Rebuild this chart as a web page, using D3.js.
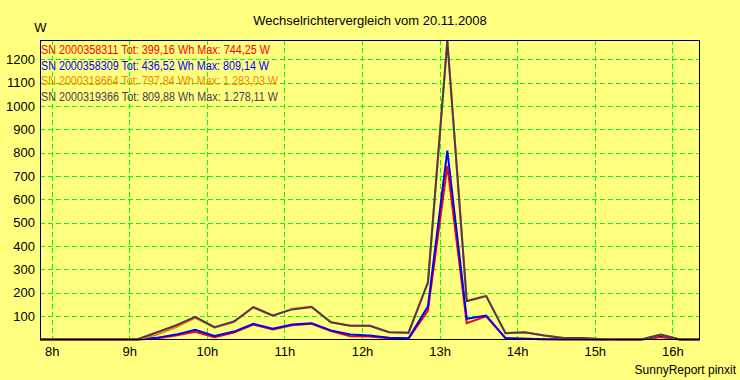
<!DOCTYPE html>
<html><head><meta charset="utf-8">
<script src="https://cdn.jsdelivr.net/npm/d3@7"></script>
<style>
html,body{margin:0;padding:0;background:#FFFF80;}
svg{display:block;font-family:"Liberation Sans",Arial,sans-serif;}
</style></head>
<body>
<svg id="chart" width="740" height="380"></svg>
<script>
// ---- data ----
const title = "Wechselrichtervergleich vom 20.11.2008";
const unitLabel = "W";
const footer = "SunnyReport pinxit";
const times = ["7:51","8:06","8:21","8:36","8:51","9:06","9:21","9:36","9:51","10:06",
  "10:21","10:36","10:51","11:06","11:21","11:36","11:51","12:06","12:21","12:36",
  "12:51","13:06","13:21","13:36","13:51","14:06","14:21","14:36","14:51","15:06",
  "15:21","15:36","15:51","16:06","16:21"];
const seriesNames = ["SN 2000358311","SN 2000358309","SN 2000318664","SN 2000319366"];
const seriesTotals = ["399,16 Wh","436,52 Wh","797,84 Wh","809,88 Wh"];
const seriesMax = ["744,25 W","809,14 W","1.283,03 W","1.278,11 W"];
const red    = [0,0,0,0,0,0,4,17,33,10,30,64,43,61,67,36,14,13,5,3,124,744,70,99,5,3,1,0,0,0,0,0,11,0,0];
const blue   = [0,0,0,0,0,0,7,21,42,15,34,67,46,64,70,39,21,17,7,5,142,809,89,103,6,3,1,1,1,0,0,0,17,0,0];
const orange = [0,0,0,0,0,0,20,52,93,51,76,137,101,132,141,74,59,59,31,29,243,1283,166,188,27,30,17,6,6,1,0,0,20,0,0];
const dark   = [0,0,0,0,0,0,30,60,97,53,77,139,103,129,139,74,59,59,31,29,245,1278,164,186,27,31,17,6,6,1,0,0,21,0,0];
const yTicks = [100,200,300,400,500,600,700,800,900,1000,1100,1200];
const xTicks = [8,9,10,11,12,13,14,15,16];
const xTickLabels = ["8h","9h","10h","11h","12h","13h","14h","15h","16h"];
const yMax = 1283.03;

// ---- layout ----
const colors = ["#FF0000","#0000FF","#FF8000","#4E3A55"];
const seriesData = [red, blue, orange, dark];
const legendWidths = [229, 228, 237, 237];
const L = 40, R = 699.5, T = 40, B = 339.5;
const toHours = s => { const [h,m] = s.split(":").map(Number); return h + m/60; };
const hours = times.map(toHours);

const svg = d3.select("#chart");
svg.append("rect").attr("width",740).attr("height",380).attr("fill","#FFFF80");

const x = d3.scaleLinear().domain([hours[0], hours[hours.length-1]]).range([L, R]);
const y = d3.scaleLinear().domain([0, yMax]).range([B, T]);

// grid
const grid = svg.append("g").attr("stroke","#00FF00").attr("stroke-width",1)
  .attr("stroke-dasharray","5,3").attr("shape-rendering","crispEdges");
grid.selectAll("line.h").data(yTicks).enter().append("line")
  .attr("x1",L).attr("x2",R).attr("y1",d=>Math.round(y(d))+0.5).attr("y2",d=>Math.round(y(d))+0.5);
grid.selectAll("line.v").data(xTicks).enter().append("line")
  .attr("y1",T).attr("y2",B).attr("x1",d=>Math.round(x(d))+0.5).attr("x2",d=>Math.round(x(d))+0.5);

// axes (labels only)
const yAxis = d3.axisLeft(y).tickValues(yTicks).tickSize(0).tickPadding(5).tickFormat(d3.format("d"));
const gy = svg.append("g").attr("transform",`translate(${L},0)`).call(yAxis);
gy.select(".domain").remove();
gy.selectAll("text").attr("font-size","13px").attr("fill","#000")
  .attr("font-family","'Liberation Sans',Arial,sans-serif");

const xAxis = d3.axisBottom(x).tickValues(xTicks).tickSize(0).tickPadding(7)
  .tickFormat((d,i)=>xTickLabels[i]);
const gx = svg.append("g").attr("transform",`translate(0,${B})`).call(xAxis);
gx.select(".domain").remove();
gx.selectAll("text").attr("font-size","13px").attr("fill","#000")
  .attr("font-family","'Liberation Sans',Arial,sans-serif");

// lines
const line = d3.line().x((d,i)=>x(hours[i])).y(d=>y(d));
seriesData.forEach((s,i)=>{
  svg.append("path").datum(s).attr("d",line).attr("fill","none")
    .attr("stroke",colors[i]).attr("stroke-width",2).attr("stroke-linejoin","miter");
});

// frame
svg.append("rect").attr("x",L).attr("y",T).attr("width",R-L).attr("height",B-T)
  .attr("fill","none").attr("stroke","#000").attr("stroke-width",1).attr("shape-rendering","crispEdges");

// legend
seriesNames.forEach((n,i)=>{
  svg.append("text").attr("x",41).attr("y",54+i*15.7).attr("font-size","12px")
    .attr("fill",colors[i]).attr("textLength",legendWidths[i]).attr("lengthAdjust","spacingAndGlyphs")
    .text(`${n} Tot: ${seriesTotals[i]} Max: ${seriesMax[i]}`);
});

// titles
svg.append("text").attr("x",370).attr("y",25).attr("text-anchor","middle")
  .attr("font-size","13px").attr("fill","#000").text(title);
svg.append("text").attr("x",40.5).attr("y",32).attr("text-anchor","middle")
  .attr("font-size","13px").attr("fill","#000").text(unitLabel);
svg.append("text").attr("x",736).attr("y",374).attr("text-anchor","end")
  .attr("font-size","12px").attr("fill","#000").text(footer);
</script>
</body></html>
